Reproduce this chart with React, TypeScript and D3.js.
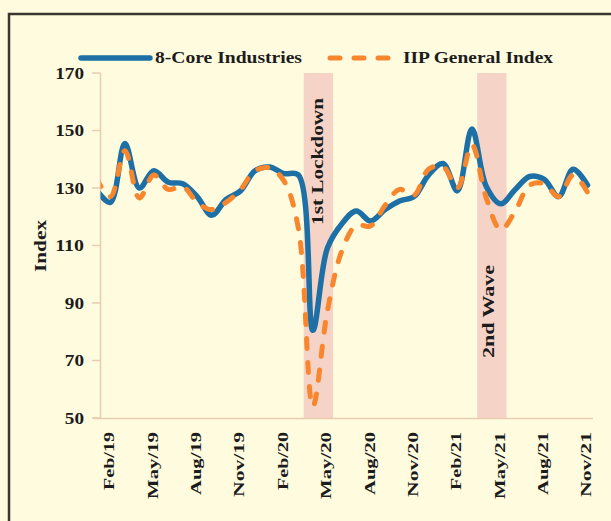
import { useRef, useEffect } from 'react';
import * as d3 from 'd3';

// monthly index values, Jan/19 .. Nov/21
const months = [
    'Jan/19', 'Feb/19', 'Mar/19', 'Apr/19', 'May/19', 'Jun/19', 'Jul/19', 'Aug/19', 'Sep/19', 'Oct/19', 'Nov/19', 'Dec/19',
    'Jan/20', 'Feb/20', 'Mar/20', 'Apr/20', 'May/20', 'Jun/20', 'Jul/20', 'Aug/20', 'Sep/20', 'Oct/20', 'Nov/20', 'Dec/20',
    'Jan/21', 'Feb/21', 'Mar/21', 'Apr/21', 'May/21', 'Jun/21', 'Jul/21', 'Aug/21', 'Sep/21', 'Oct/21', 'Nov/21'
];
const coreIndex = [
    129.5, 125, 145.5, 130, 136, 132, 131.5, 127, 120.5, 126, 129, 136,
    137.3, 135, 134.5, 80.5, 109, 117.5, 122, 118.5, 122.5, 125.5, 127, 134.5,
    138.5, 129, 150.5, 130.5, 124.5, 129.5, 134, 133, 127, 136.5, 131
];
const iipIndex = [
    133.5, 127, 143, 126.5, 134.5, 129.5, 130.5, 125, 122.5, 125, 129.5, 136,
    137, 132.5, 116, 54, 87, 108, 117, 116.8, 124, 129.5, 127.5, 136.5,
    137.5, 130, 145, 126.5, 115.5, 122, 131, 131.5, 127, 134.5, 128.5
];
const xTickLabels = ['Feb/19', 'May/19', 'Aug/19', 'Nov/19', 'Feb/20', 'May/20', 'Aug/20', 'Nov/20', 'Feb/21', 'May/21', 'Aug/21', 'Nov/21'];
const yTicks = [50, 70, 90, 110, 130, 150, 170];
const events = [
    { label: '1st Lockdown', from: 'Apr/20', to: 'May/20' },
    { label: '2nd Wave', from: 'Apr/21', to: 'May/21' }
];
const seriesNames = ['8-Core Industries', 'IIP General Index'];

const W = 611;
const H = 521;
const BG = '#fffbdf';
const BLUE = '#1d70a6';
const ORANGE = '#f8862c';
const AXIS = '#e8cdb2';
const FONT = '"Liberation Serif", "DejaVu Serif", serif';

const App = () => {
    const ref = useRef<SVGSVGElement>(null);

    useEffect(() => {
        const svg = d3.select(ref.current);
        svg.selectAll('*').remove();
        svg.attr('viewBox', [0, 0, W, H].join(' '));

        const x: any = d3.scalePoint().domain(months).range([96, 587.5]);
        const step = x.step();
        const y = d3.scaleLinear().domain([50, 170]).range([418, 73]);

        svg.append('rect').attr('width', W).attr('height', H).attr('fill', BG);

        // frame
        svg.append('rect')
            .attr('x', 9).attr('y', 14).attr('width', 700).attr('height', 600)
            .attr('fill', 'none').attr('stroke', '#3a3630').attr('stroke-width', 2.5);

        // shaded event bands
        const bands = svg.append('g');
        events.forEach((e) => {
            const x0 = x(e.from) - step * 0.63;
            const x1 = x(e.to) + step * 0.4;
            bands.append('rect')
                .attr('x', x0).attr('y', y(170))
                .attr('width', x1 - x0).attr('height', y(50) - y(170))
                .attr('fill', '#f5d3c6');
        });

        // y axis
        const yAxis = svg.append('g');
        yAxis.append('line')
            .attr('x1', 100.5).attr('x2', 100.5).attr('y1', y(170)).attr('y2', y(50))
            .attr('stroke', AXIS).attr('stroke-width', 1.5);
        yAxis.selectAll('.tick').data(yTicks).enter().append('line')
            .attr('x1', 92).attr('x2', 100.5)
            .attr('y1', (d: number) => y(d)).attr('y2', (d: number) => y(d))
            .attr('stroke', AXIS).attr('stroke-width', 1.5);
        yAxis.selectAll('text').data(yTicks).enter().append('text')
            .attr('x', 84).attr('y', (d: number) => y(d))
            .attr('dy', '0.36em')
            .attr('text-anchor', 'end')
            .attr('textLength', (d: number) => String(d).length * 9.6)
            .attr('lengthAdjust', 'spacingAndGlyphs')
            .attr('style', `font-family:${FONT};font-size:16px;font-weight:bold;fill:#1c1c1c`)
            .text((d: number) => d);

        // x axis
        svg.append('line')
            .attr('x1', 93).attr('x2', 593).attr('y1', 418.5).attr('y2', 418.5)
            .attr('stroke', AXIS).attr('stroke-width', 1.5);
        const lens: any = { Feb: 58, May: 67, Aug: 63, Nov: 65 };
        svg.append('g').selectAll('text').data(xTickLabels).enter().append('text')
            .attr('transform', (d: string) => `translate(${x(d) - 1.5}, 432) rotate(-90)`)
            .attr('dy', '0.36em')
            .attr('text-anchor', 'end')
            .attr('textLength', (d: string) => lens[d.slice(0, 3)])
            .attr('lengthAdjust', 'spacingAndGlyphs')
            .attr('style', `font-family:${FONT};font-size:15px;font-weight:bold;fill:#1c1c1c`)
            .text((d: string) => d);

        // axis title
        svg.append('text')
            .attr('transform', 'translate(40, 246) rotate(-90)')
            .attr('dy', '0.36em')
            .attr('text-anchor', 'middle')
            .attr('textLength', 52)
            .attr('lengthAdjust', 'spacingAndGlyphs')
            .attr('style', `font-family:${FONT};font-size:16px;font-weight:bold;fill:#1c1c1c`)
            .text('Index');

        // band labels
        const labelPos = [{ cx: 317, top: 98, len: 127 }, { cx: 488, top: 265, len: 93 }];
        events.forEach((e, i) => {
            svg.append('text')
                .attr('transform', `translate(${labelPos[i].cx}, ${labelPos[i].top}) rotate(-90)`)
                .attr('dy', '0.36em')
                .attr('text-anchor', 'end')
                .attr('textLength', labelPos[i].len)
                .attr('lengthAdjust', 'spacingAndGlyphs')
                .attr('style', `font-family:${FONT};font-size:16px;font-weight:bold;fill:#1c1c1c`)
                .text(e.label);
        });

        // lines (clipped at the y axis)
        svg.append('clipPath').attr('id', 'plot-clip')
            .append('rect').attr('x', 100.5).attr('y', 0).attr('width', W).attr('height', H);

        const line = d3.line<number>()
            .curve(d3.curveCatmullRom.alpha(0.5))
            .x((_d, i) => x(months[i]))
            .y((d) => y(d));

        const plot = svg.append('g').attr('clip-path', 'url(#plot-clip)');
        plot.append('path')
            .attr('d', line(coreIndex))
            .attr('fill', 'none')
            .attr('stroke', BLUE)
            .attr('stroke-width', 5.5)
            .style('stroke-linejoin', 'round')
            .style('stroke-linecap', 'round');
        plot.append('path')
            .attr('d', line(iipIndex))
            .attr('fill', 'none')
            .attr('stroke', ORANGE)
            .attr('stroke-width', 5)
            .attr('stroke-dasharray', '10 14')
            .style('stroke-linecap', 'round');

        // legend
        const legend = svg.append('g');
        legend.append('line')
            .attr('x1', 81).attr('x2', 150).attr('y1', 58).attr('y2', 58)
            .attr('stroke', BLUE).attr('stroke-width', 5.5).style('stroke-linecap', 'round');
        legend.append('line')
            .attr('x1', 330).attr('x2', 392).attr('y1', 58).attr('y2', 58)
            .attr('stroke', ORANGE).attr('stroke-width', 5)
            .attr('stroke-dasharray', '10 14').style('stroke-linecap', 'round');
        const legendPos = [{ x: 155, len: 147 }, { x: 403, len: 150 }];
        seriesNames.forEach((s, i) => {
            legend.append('text')
                .attr('x', legendPos[i].x).attr('y', 58).attr('dy', '0.34em')
                .attr('textLength', legendPos[i].len)
                .attr('lengthAdjust', 'spacingAndGlyphs')
                .attr('style', `font-family:${FONT};font-size:16px;font-weight:bold;fill:#1c1c1c`)
                .text(s);
        });
    }, []);

    return (
        <div style={{ position: 'absolute', left: 0, top: 0 }}>
            <svg ref={ref} width={W} height={H} style={{ display: 'block' }}></svg>
        </div>
    );
};

export default App;
